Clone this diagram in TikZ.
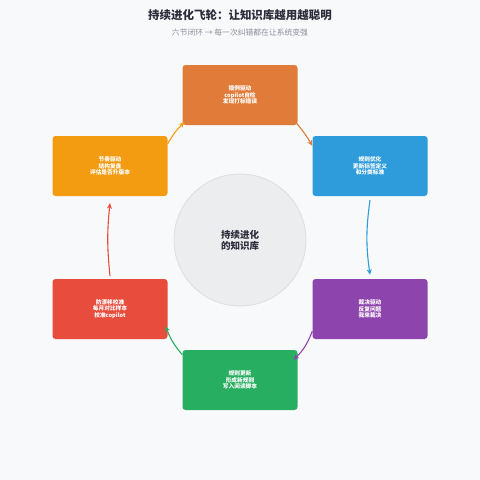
\documentclass[tikz,border=0pt]{standalone}
\usepackage{fontspec}
\setmainfont{Noto Sans CJK SC}
\usetikzlibrary{arrows.meta}
\definecolor{bg}{HTML}{F8F9FB}
\definecolor{cOrange}{HTML}{E07B39}
\definecolor{cBlue}{HTML}{2E9BDB}
\definecolor{cPurple}{HTML}{8E44AD}
\definecolor{cGreen}{HTML}{27AE60}
\definecolor{cRed}{HTML}{E74C3C}
\definecolor{cYellow}{HTML}{F39C12}
\definecolor{titlec}{HTML}{2C2C3A}
\definecolor{subc}{HTML}{8A8F98}
\definecolor{circf}{HTML}{ECEDEF}
\definecolor{circd}{HTML}{DCDDE0}
\begin{document}
\begin{tikzpicture}[x=1pt,y=-1pt,
  stagebox/.style={rounded corners=3pt,minimum width=115pt,minimum height=60pt,inner sep=0pt,
    text=white,align=center,font=\fontsize{5.7}{6.7}\selectfont\bfseries},
  flow/.style={line width=1.1pt,-{Stealth[length=5.5pt,width=5pt]}}]
\useasboundingbox (0,0) rectangle (480,480);
\fill[bg] (0,0) rectangle (480,480);
\node (title) at (240,15) {\fontsize{11.5}{13}\selectfont\bfseries\color{titlec}持续进化飞轮：让知识库越用越聪明};
\node (sub) at (240,33) {\fontsize{7.8}{9}\selectfont\color{subc}六节闭环 → 每一次纠错都在让系统变强};
\node[circle,fill=circf,draw=circd,line width=0.8pt,minimum size=132pt,align=center,
  font=\fontsize{9.5}{11}\selectfont\bfseries,text=titlec] (hub) at (240,240) {持续进化\\的知识库};
\node[stagebox,fill=cOrange] (s1) at (240,95) {错例驱动\\copilot自检\\发现打标错误};
\node[stagebox,fill=cBlue] (s2) at (370,166) {规则优化\\更新标签定义\\和分类标准};
\node[stagebox,fill=cPurple] (s3) at (370,309) {裁决驱动\\反复问题\\我来裁决};
\node[stagebox,fill=cGreen] (s4) at (240,380) {规则更新\\形成新规则\\写入阅读脚本};
\node[stagebox,fill=cRed] (s5) at (110,309) {防漂移校准\\每月对比样本\\校准copilot};
\node[stagebox,fill=cYellow] (s6) at (110,166) {节奏驱动\\结构复盘\\评估是否升版本};
\draw[flow,cOrange] ([xshift=-2pt,yshift=3pt]s1.south east) to[bend left=5] ([yshift=-10pt]s2.north west);
\draw[flow,cBlue] ([yshift=-4pt]s2.south) to[bend right=8] ([yshift=4pt]s3.north);
\draw[flow,cPurple] ([yshift=8pt]s3.south west) to[bend left=12] ([xshift=-4pt,yshift=-10pt]s4.north east);
\draw[flow,cGreen] ([yshift=-5pt]s4.north west) to[bend left=10] ([xshift=-2pt,yshift=13pt]s5.south east);
\draw[flow,cRed] ([yshift=3pt]s5.north) to[bend left=6] ([yshift=-7pt]s6.south);
\draw[flow,cYellow] ([yshift=-8pt]s6.north east) to[bend left=8] ([xshift=2pt,yshift=3pt]s1.south west);
\end{tikzpicture}
\end{document}
